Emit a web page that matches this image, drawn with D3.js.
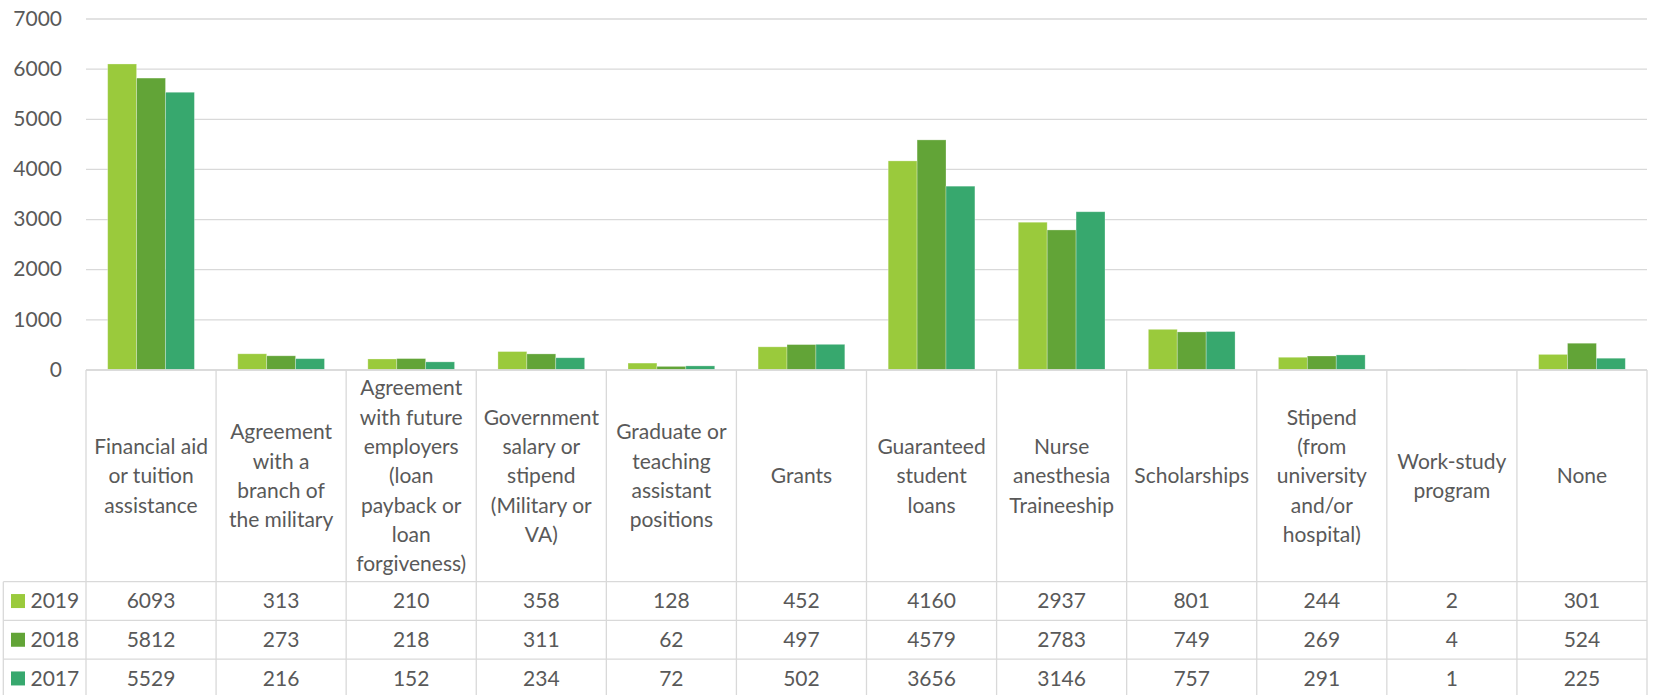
<!DOCTYPE html>
<html>
<head>
<meta charset="utf-8">
<script src="https://cdn.jsdelivr.net/npm/d3@7"></script>
<style>
  html, body { margin: 0; padding: 0; background: #fff; }
  svg { display: block; }
  text { font-family: Lato, "Open Sans", sans-serif; fill: #595959; }
</style>
</head>
<body>
<svg id="chart" width="1654" height="695"></svg>
<script>
const categories = [
  ["Financial aid", "or tuition", "assistance"],
  ["Agreement", "with a", "branch of", "the military"],
  ["Agreement", "with future", "employers", "(loan", "payback or", "loan", "forgiveness)"],
  ["Government", "salary or", "stipend", "(Military or", "VA)"],
  ["Graduate or", "teaching", "assistant", "positions"],
  ["Grants"],
  ["Guaranteed", "student", "loans"],
  ["Nurse", "anesthesia", "Traineeship"],
  ["Scholarships"],
  ["Stipend", "(from", "university", "and/or", "hospital)"],
  ["Work-study", "program"],
  ["None"]
];
const seriesNames = ["2019", "2018", "2017"];
const values2019 = [6093, 313, 210, 358, 128, 452, 4160, 2937, 801, 244, 2, 301];
const values2018 = [5812, 273, 218, 311, 62, 497, 4579, 2783, 749, 269, 4, 524];
const values2017 = [5529, 216, 152, 234, 72, 502, 3656, 3146, 757, 291, 1, 225];
const colors = ["#9ACA3C", "#62A437", "#37A86E"];
const yTicks = [0, 1000, 2000, 3000, 4000, 5000, 6000, 7000];

const seriesValues = [values2019, values2018, values2017];
const svg = d3.select("#chart");

const plotLeft = 86, plotRight = 1647;
const tableTop = 370, headerBottom = 581.7, rowH = 38.7;
const tableLeft = 3.3;

const idx = d3.range(categories.length);
const x0 = d3.scaleBand().domain(idx).range([plotLeft, plotRight]).paddingInner(0).paddingOuter(0);
const x1 = d3.scaleBand().domain(seriesNames).range([0, x0.bandwidth()]).paddingInner(0).paddingOuter(0.75);
const y = d3.scaleLinear().domain([0, 7000]).range([369.5, 18.5]);
const color = d3.scaleOrdinal().domain(seriesNames).range(colors);

// gridlines
const yAxis = d3.axisLeft(y).tickValues(yTicks).tickSize(-(plotRight - plotLeft)).tickPadding(24).tickFormat(d3.format("d"));
const gy = svg.append("g").attr("transform", `translate(${plotLeft},0)`).call(yAxis);
gy.select(".domain").remove();
gy.selectAll(".tick line").attr("stroke", "#d9d9d9").attr("stroke-width", 1.3);
gy.selectAll(".tick text").attr("font-size", 21).attr("fill", "#595959")
  .style("font-family", "Lato, 'Open Sans', sans-serif");

// bars
const groups = svg.append("g").selectAll("g").data(idx).join("g")
  .attr("transform", i => `translate(${x0(i)},0)`);
groups.selectAll("rect")
  .data(i => seriesNames.map((s, k) => ({ s, v: seriesValues[k][i] })))
  .join("rect")
  .attr("x", d => x1(d.s))
  .attr("width", x1.bandwidth())
  .attr("y", d => y(d.v))
  .attr("height", d => y(0) - y(d.v))
  .attr("fill", d => color(d.s))
  .attr("stroke", "rgba(255,255,255,0.35)")
  .attr("stroke-width", 0.8);

// table lines
const lines = svg.append("g").attr("stroke", "#d9d9d9").attr("stroke-width", 1.3);
const tableBottom = headerBottom + rowH * 3;
lines.append("line").attr("x1", plotLeft).attr("x2", plotRight).attr("y1", tableTop).attr("y2", tableTop);
for (let r = 0; r <= 3; r++) {
  const yy = headerBottom + r * rowH;
  lines.append("line").attr("x1", tableLeft).attr("x2", plotRight).attr("y1", yy).attr("y2", yy);
}
idx.concat([categories.length]).forEach(i => {
  const xx = i < categories.length ? x0(i) : plotRight;
  lines.append("line").attr("x1", xx).attr("x2", xx).attr("y1", tableTop).attr("y2", tableBottom);
});
lines.append("line").attr("x1", tableLeft).attr("x2", tableLeft).attr("y1", headerBottom).attr("y2", tableBottom);

// header labels
const lineH = 29.3;
const headerMid = (tableTop + headerBottom) / 2;
const hdr = svg.append("g").attr("font-size", 21).attr("text-anchor", "middle");
idx.forEach(i => {
  const ls = categories[i];
  const cx = x0(i) + x0.bandwidth() / 2;
  const t = hdr.append("text").attr("x", cx).attr("y", headerMid - (ls.length - 1) * lineH / 2).attr("dy", "0.35em");
  ls.forEach((l, j) => {
    t.append("tspan").attr("x", cx).attr("y", headerMid - (ls.length - 1) * lineH / 2 + j * lineH).attr("dy", "0.35em").text(l);
  });
});

// data rows
const rows = svg.append("g").attr("font-size", 21);
seriesNames.forEach((s, k) => {
  const cy = headerBottom + k * rowH + rowH / 2;
  rows.append("rect").attr("x", 11).attr("y", cy - 7).attr("width", 14).attr("height", 14).attr("fill", color(s));
  rows.append("text").attr("x", 30.5).attr("y", cy).attr("dy", "0.35em").text(s);
  idx.forEach(i => {
    rows.append("text").attr("x", x0(i) + x0.bandwidth() / 2).attr("y", cy).attr("dy", "0.35em")
      .attr("text-anchor", "middle").text(seriesValues[k][i]);
  });
});
</script>
</body>
</html>
